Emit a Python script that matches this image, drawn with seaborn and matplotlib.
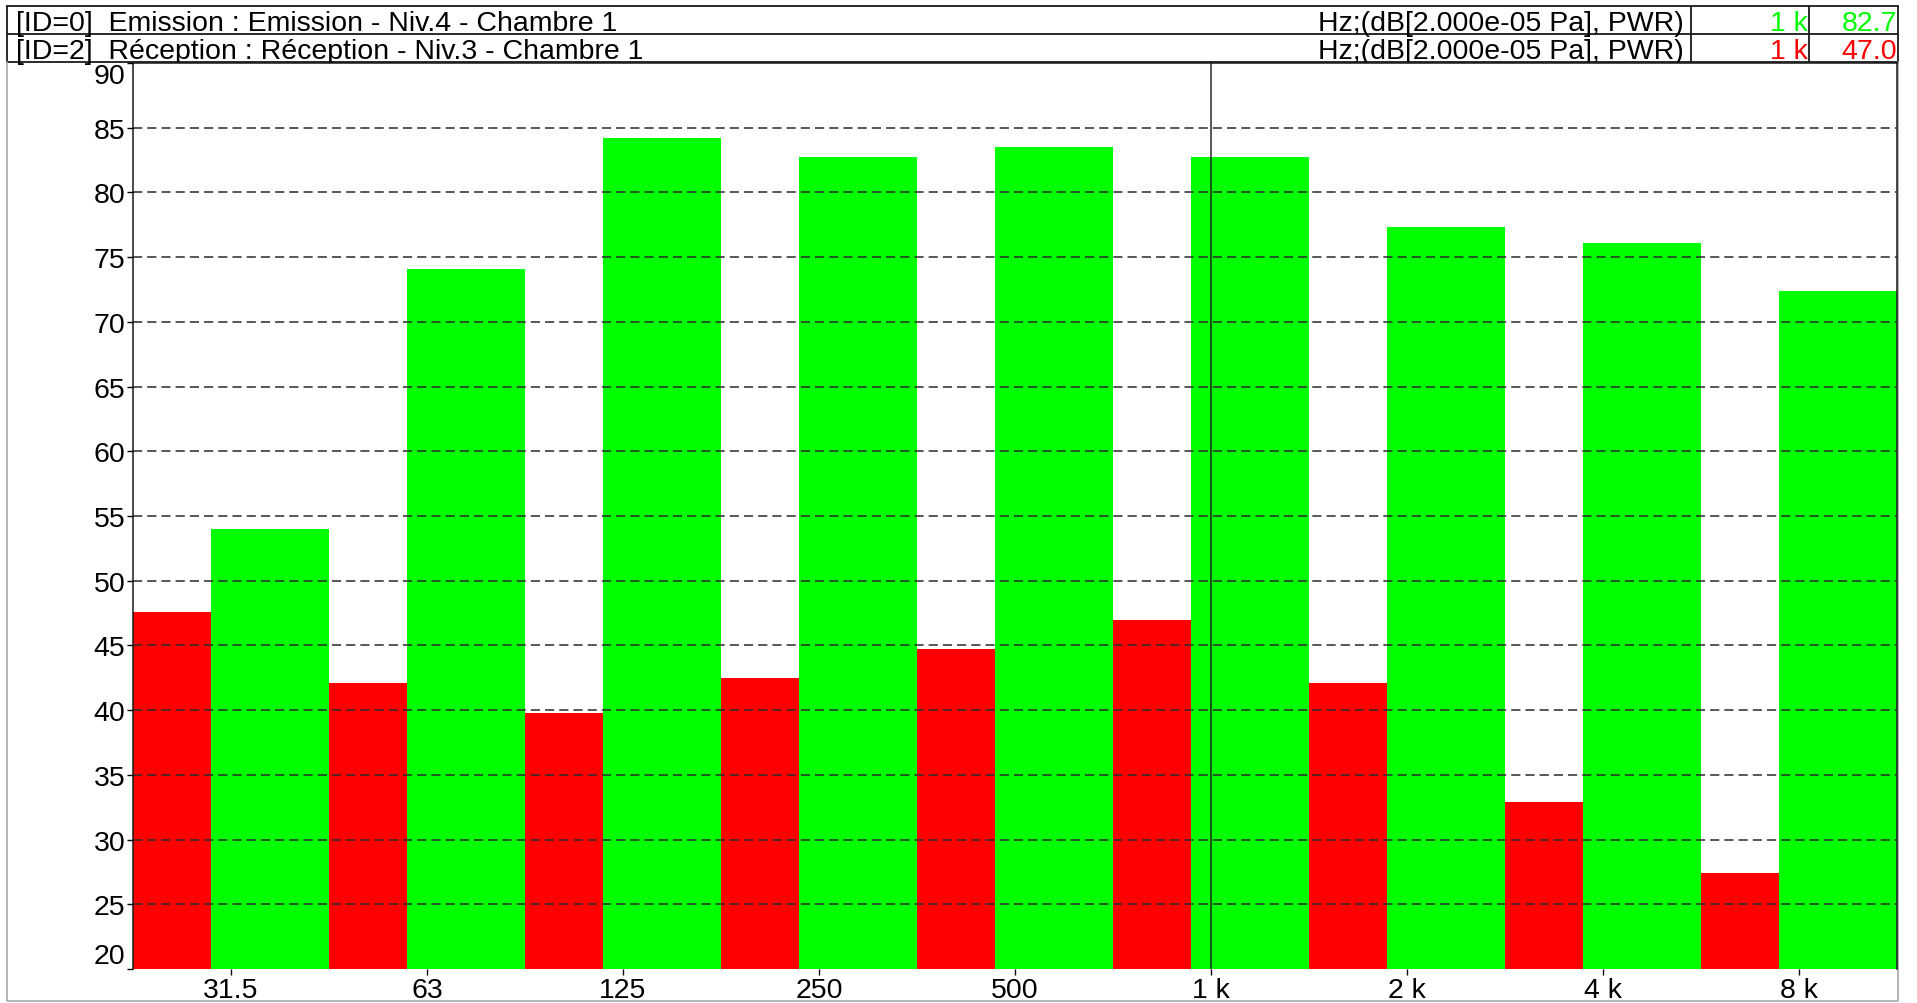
import numpy as np
import matplotlib
matplotlib.use("Agg")
import matplotlib.pyplot as plt
import seaborn as sns

# Third-octave band data (Hz labels) and levels in dB
bands = ["31.5", "63", "125", "250", "500", "1 k", "2 k", "4 k", "8 k"]
emission = [54.0, 74.1, 84.2, 82.7, 83.5, 82.7, 77.3, 76.1, 72.4]
reception = [47.6, 42.1, 39.8, 42.5, 44.7, 47.0, 42.1, 32.9, 27.4]

header_left = ["[ID=0]  Emission : Emission - Niv.4 - Chambre 1",
               "[ID=2]  Réception : Réception - Niv.3 - Chambre 1"]
header_unit = "Hz;(dB[2.000e-05 Pa], PWR)"
cursor_band = "1 k"
cursor_values = ["82.7", "47.0"]

GREEN = "#00ff00"
RED = "#ff0000"

sns.set_theme(style="white")
plt.rcParams["font.family"] = ["Liberation Sans", "DejaVu Sans"]

W, H = 1917, 1004
fig = plt.figure(figsize=(W / 100, H / 100), dpi=100)
fig.patch.set_facecolor("white")

# overlay in pixel coords for the header table and outer frame
hdr = fig.add_axes([0, 0, 1, 1], zorder=0)
hdr.set_xlim(0, W)
hdr.set_ylim(H, 0)
hdr.axis("off")

x0, x1, xs1, xs2 = 7, 1898, 1691, 1809
rows = [7, 35, 63]
for y in rows:
    hdr.plot([x0, x1], [y, y], color="#1a1a1a", lw=1.3)
for x in [x0, xs1, xs2, x1]:
    hdr.plot([x, x], [rows[0], rows[-1]], color="#1a1a1a", lw=1.3)
# outer light frame
hdr.plot([x0, x0, x1, x1], [rows[-1], 1002, 1002, rows[-1]], color="#a8a8a8", lw=1.2)

colors = [GREEN, RED]
fs_hdr = 20.5
for i, txt in enumerate(header_left):
    yb = rows[i] + 24
    hdr.text(16, yb, txt, fontsize=fs_hdr, va="baseline", ha="left", color="black")
    hdr.text(xs1 - 7, yb, header_unit, fontsize=fs_hdr, va="baseline", ha="right", color="black")
    hdr.text(xs2 - 1, yb, cursor_band, fontsize=fs_hdr, va="baseline", ha="right", color=colors[i])
    hdr.text(x1 - 1, yb, cursor_values[i], fontsize=fs_hdr, va="baseline", ha="right", color=colors[i])

# main chart
ax = fig.add_axes([133 / W, (H - 970) / H, (1897 - 133) / W, (970 - 64) / H], zorder=2)
ax.set_facecolor("white")

idx = np.arange(len(bands))
sns.barplot(x=idx - 0.3, y=reception, native_scale=True, width=0.4, color=RED,
            saturation=1, errorbar=None, linewidth=0, ax=ax)
sns.barplot(x=idx + 0.2, y=emission, native_scale=True, width=0.6, color=GREEN,
            saturation=1, errorbar=None, linewidth=0, ax=ax)

ax.set_xlim(-0.5, len(bands) - 0.5)
ax.set_ylim(20, 90)
ax.set_yticks(np.arange(20, 91, 5))
ax.set_xticks(idx)
ax.set_xticklabels(bands)
ax.set_xlabel("")
ax.set_ylabel("")

ax.tick_params(axis="both", labelsize=20.5, colors="black", direction="out", length=4,
               width=1, pad=1.5, left=True, bottom=True)
ax.tick_params(axis="x", pad=2)

ylabels = ax.get_yticklabels()
ylabels[0].set_va("bottom")
ylabels[-1].set_va("top")

# dashed grid drawn over the bars
ax.set_axisbelow(False)
ax.yaxis.grid(True, linestyle=(0, (6, 3.3)), color="#2a2a2a", lw=1.1)
gls = ax.yaxis.get_gridlines()
gls[0].set_visible(False)
gls[-1].set_visible(False)

for side in ["left", "top", "right"]:
    ax.spines[side].set_visible(True)
    ax.spines[side].set_color("#1a1a1a")
    ax.spines[side].set_linewidth(1.1)
ax.spines["bottom"].set_visible(False)

# cursor at 1 k
ax.axvline(bands.index(cursor_band), color="#1a1a1a", lw=1.2, alpha=0.85, zorder=5)

fig.savefig("out.png", dpi=100, facecolor="white")
